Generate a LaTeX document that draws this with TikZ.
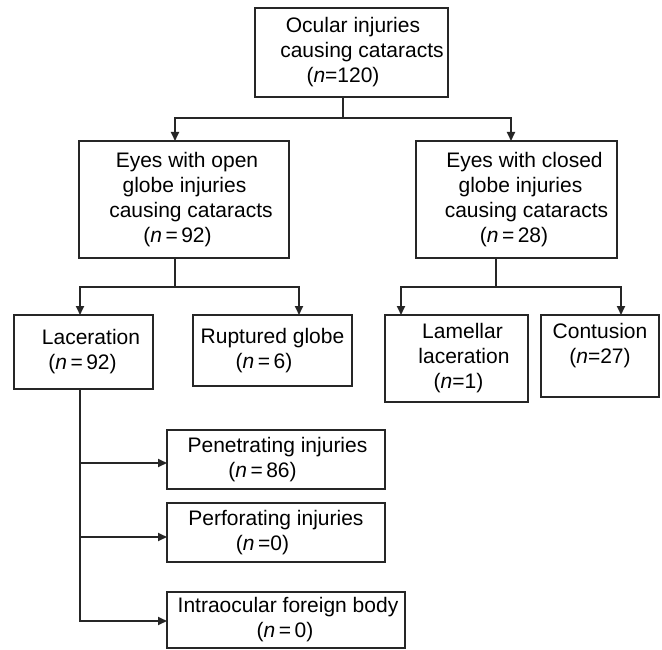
\documentclass[tikz,border=0pt]{standalone}
\usepackage{fontspec}
\setmainfont{Liberation Sans}
\usetikzlibrary{arrows.meta}
\newcommand{\nvar}{\textit{n}}
\newcommand{\sh}[1]{\hspace*{#1pt}}
\begin{document}
\begin{tikzpicture}[x=1pt,y=-1pt,
  box/.style={draw=black!85, line width=1.8pt, inner sep=0pt, outer sep=0pt,
    align=center, font=\fontsize{21}{25}\selectfont},
  conn/.style={line width=1.8pt, draw=black!85},
  arr/.style={conn, -{Triangle[length=9pt,width=8pt]}}]
\useasboundingbox (0,0) rectangle (662,650);
\fill[white] (0,0) rectangle (662,650);

\node[box, minimum width=193pt, minimum height=89pt] (top) at (351.5,52.5)
  {\sh{3}Ocular injuries\\\sh{21}causing cataracts\\\sh{-17}(\nvar=120)};
\node[box, minimum width=210pt, minimum height=117pt] (open) at (184,199.5)
  {\sh{6}Eyes with open\\\sh{1}globe injuries\\\sh{14}causing cataracts\\\sh{-13}(\nvar\,=\,92)};
\node[box, minimum width=201pt, minimum height=117pt] (closed) at (516.5,199.5)
  {\sh{16}Eyes with closed\\\sh{8}globe injuries\\\sh{20}causing cataracts\\\sh{-5}(\nvar\,=\,28)};
\node[box, minimum width=139pt, minimum height=74pt] (lac) at (83.5,352)
  {\sh{15}Laceration\\\sh{-2}(\nvar\,=\,92)};
\node[box, minimum width=159pt, minimum height=71pt] (rup) at (272.5,350.5)
  {Ruptured globe\\\sh{-17}(\nvar\,=\,6)};
\node[box, minimum width=143pt, minimum height=87pt] (lam) at (456.5,358.5)
  {\sh{12}Lamellar\\\sh{15}laceration\\\sh{4}(\nvar=1)};
\node[box, minimum width=118pt, minimum height=82pt] (con) at (600,356)
  {Contusion\\(\nvar=27)\\\mbox{}};
\node[box, minimum width=218pt, minimum height=59pt] (pen) at (276,459.5)
  {\sh{3}Penetrating injuries\\\sh{-27}(\nvar\,=\,86)};
\node[box, minimum width=218pt, minimum height=59pt] (perf) at (276,532.5)
  {Perforating injuries\\\sh{-27}(\nvar\,=0)};
\node[box, minimum width=238pt, minimum height=56pt] (iofb) at (286,620)
  {\sh{4}Intraocular foreign body\\\sh{-2}(\nvar\,=\,0)};

% level 1
\draw[conn] ([xshift=-8.5pt]top.south) -- ++(0,21) coordinate (j0);
\draw[arr] (j0) -| ([xshift=-9pt]open.north);
\draw[arr] (j0) -| ([xshift=-5.5pt]closed.north);
% open branch
\draw[conn] ([xshift=-9pt]open.south) -- ++(0,29) coordinate (j1);
\draw[arr] (j1) -| ([xshift=-3.5pt]lac.north);
\draw[arr] (j1) -| ([xshift=26.5pt]rup.north);
% closed branch
\draw[conn] ([xshift=-20.5pt]closed.south) -- ++(0,29) coordinate (j2);
\draw[arr] (j2) -| ([xshift=-55.5pt]lam.north);
\draw[arr] (j2) -| ([xshift=21pt]con.north);
% laceration subtypes
\coordinate (v) at ([xshift=-3.5pt]lac.south);
\coordinate (pw) at ([yshift=-3.5pt]pen.west);
\coordinate (fw) at ([yshift=-4.5pt]perf.west);
\coordinate (iw) at ([yshift=-1pt]iofb.west);
\draw[conn] (v) -- ([yshift=-1pt]v |- iw);
\draw[arr] (v |- pw) -- (pw);
\draw[arr] (v |- fw) -- (fw);
\draw[arr] (v |- iw) -- (iw);
\end{tikzpicture}
\end{document}
